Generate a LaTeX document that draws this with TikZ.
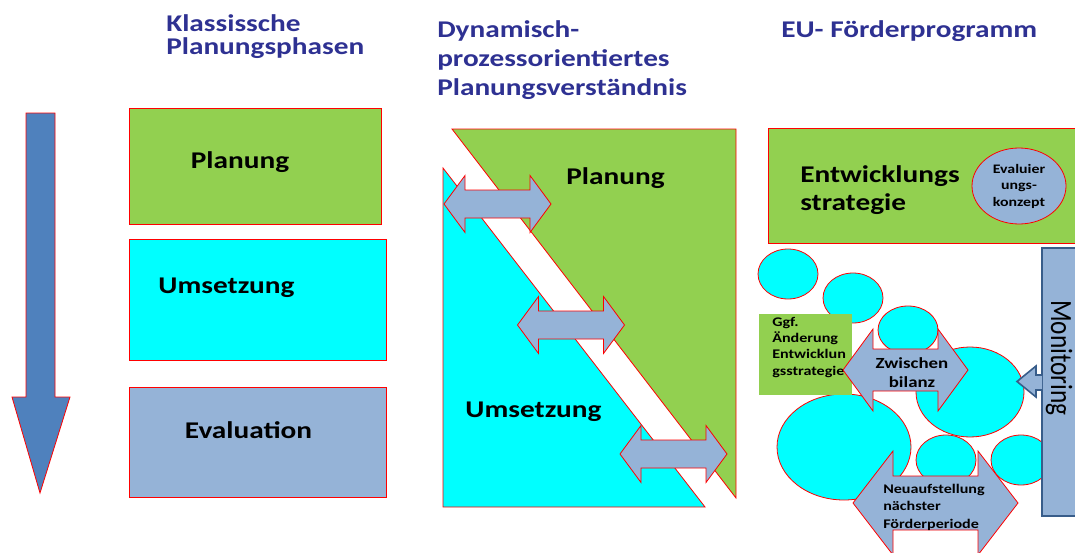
\documentclass[tikz,border=0pt]{standalone}
\usepackage{fontspec}
\setmainfont{Carlito}[FakeStretch=1.22]
\newfontfamily\monfont{Carlito}
\usetikzlibrary{positioning}

\definecolor{hellgruen}{HTML}{92D050}
\definecolor{tuerkis}{HTML}{00FFFF}
\definecolor{graublau}{HTML}{95B3D7}
\definecolor{pfeilblau}{HTML}{4F81BD}
\definecolor{rahmenblau}{HTML}{385D8A}
\definecolor{titelblau}{HTML}{2E3192}

\begin{document}
\begin{tikzpicture}
	[x=0.75pt,y=-0.75pt,
	feld/.style={draw=red,line width=0.6pt},
	titel/.style={inner sep=0pt,anchor=base west,align=left,text=titelblau,font=\bfseries\fontsize{18}{17.25}\selectfont},
	phase/.style={inner sep=0pt,anchor=base,font=\bfseries\fontsize{18}{21}\selectfont},
	klein/.style={inner sep=0pt,anchor=base west,align=left,font=\bfseries\fontsize{9.9}{12.2}\selectfont}]
	\useasboundingbox (0,0) rectangle (1075,553);
	\clip (0,0) rectangle (1075,553);
	% titles (base = last line)
	\node[titel] (klassisch) at (166,55) {Klassissche\\Planungsphasen};
	\node[titel,font=\bfseries\fontsize{18}{21.75}\selectfont] (dynamisch) at (437,95) {Dynamisch-\\prozessorientiertes\\Planungsverständnis};
	\node[titel] (eu) at (781,37) {EU- Förderprogramm};
	% arrow down
	\draw[feld,fill=pfeilblau] (26,113) -- (55,113) -- (55,397) -- (70,397) -- (40,493) -- (12,397) -- (26,397) -- cycle;
	% classic boxes
	\draw[feld,fill=hellgruen] (129,108) rectangle (381,224);
	\draw[feld,fill=tuerkis] (129,239) rectangle (386,360);
	\draw[feld,fill=graublau] (129,387) rectangle (386,497);
	\node[phase] (planung) at (240,168) {Planung};
	\node[phase] (umsetzung) at (226.5,293) {Umsetzung};
	\node[phase] (evaluation) at (248.5,438) {Evaluation};
	% dynamic triangles
	\draw[feld,fill=hellgruen] (452,129) -- (736,129) -- (736,498) -- cycle;
	\draw[feld,fill=tuerkis] (443,168) -- (443,507) -- (705,507) -- cycle;
	\foreach \cx/\cy in {497.5/204, 571/325, 673.5/454}
		\draw[feld,fill=graublau,shift={(\cx,\cy)}] (-53.5,0) -- (-32.5,-28.5) -- (-32.5,-14) -- (32.5,-14) -- (32.5,-28.5) -- (53.5,0) -- (32.5,28.5) -- (32.5,14) -- (-32.5,14) -- (-32.5,28.5) -- cycle;
	\node[phase] (dynplanung) at (615.5,184) {Planung};
	\node[phase] (dynumsetzung) at (533.5,417) {Umsetzung};
	% EU programme
	\draw[feld,fill=hellgruen] (768,128) rectangle (1090,243);
	\node[phase,anchor=base west,align=left,font=\bfseries\fontsize{18}{21}\selectfont] (strategie) at (800,210) {Entwicklungs\\strategie};
	\draw[feld,fill=graublau] (1019,186) ellipse [x radius=47,y radius=38];
	\node[align=center,inner sep=0pt,font=\bfseries\fontsize{9.75}{12.4}\selectfont] (konzept) at (1019,186) {Evaluier\\ungs-\\konzept};
	% bubbles
	\foreach \cx/\cy/\rx/\ry in {788/274/30/25, 853/298/30/25, 908/330/30/24, 970/392/54/45, 844/447/67/53, 946/460/30/25, 1021/460/30/25}
		\draw[feld,fill=tuerkis] (\cx,\cy) ellipse [x radius=\rx,y radius=\ry];
	\fill[hellgruen] (759,314) rectangle (852,395);
	\node[klein] (aenderung) at (772,375) {Ggf.\\Änderung\\Entwicklun\\gsstrategie};
	% double arrows
	\draw[feld,fill=graublau,shift={(905.5,370)}] (-62.5,0) -- (-32.5,-41) -- (-32.5,-21) -- (32.5,-21) -- (32.5,-41) -- (62.5,0) -- (32.5,41) -- (32.5,21) -- (-32.5,21) -- (-32.5,41) -- cycle;
	\draw[feld,fill=graublau,shift={(935.5,503)}] (-82.5,0) -- (-42.5,-52) -- (-42.5,-27) -- (42.5,-27) -- (42.5,-52) -- (82.5,0) -- (42.5,52) -- (42.5,27) -- (-42.5,27) -- (-42.5,52) -- cycle;
	\node[inner sep=0pt,anchor=base,align=center,font=\bfseries\fontsize{11.6}{14.25}\selectfont] (bilanz) at (912,387) {Zwischen\\bilanz};
	\node[klein,font=\bfseries\fontsize{9.9}{13}\selectfont] (neu) at (883,528) {Neuaufstellung\\nächster\\Förderperiode};
	% monitoring
	\draw[draw=rahmenblau,line width=1.5pt,fill=graublau] (1042,248) rectangle (1095,516);
	\node[rotate=-90,yscale=1.22,inner sep=0pt,font=\monfont\fontsize{19}{19}\selectfont] (monitoring) at (1059,358) {Monitoring};
	\draw[draw=rahmenblau,line width=1.2pt,fill=graublau] (1042,375) -- (1036,375) -- (1036,366) -- (1017,381.5) -- (1036,397) -- (1036,390) -- (1042,390);
\end{tikzpicture}
\end{document}
